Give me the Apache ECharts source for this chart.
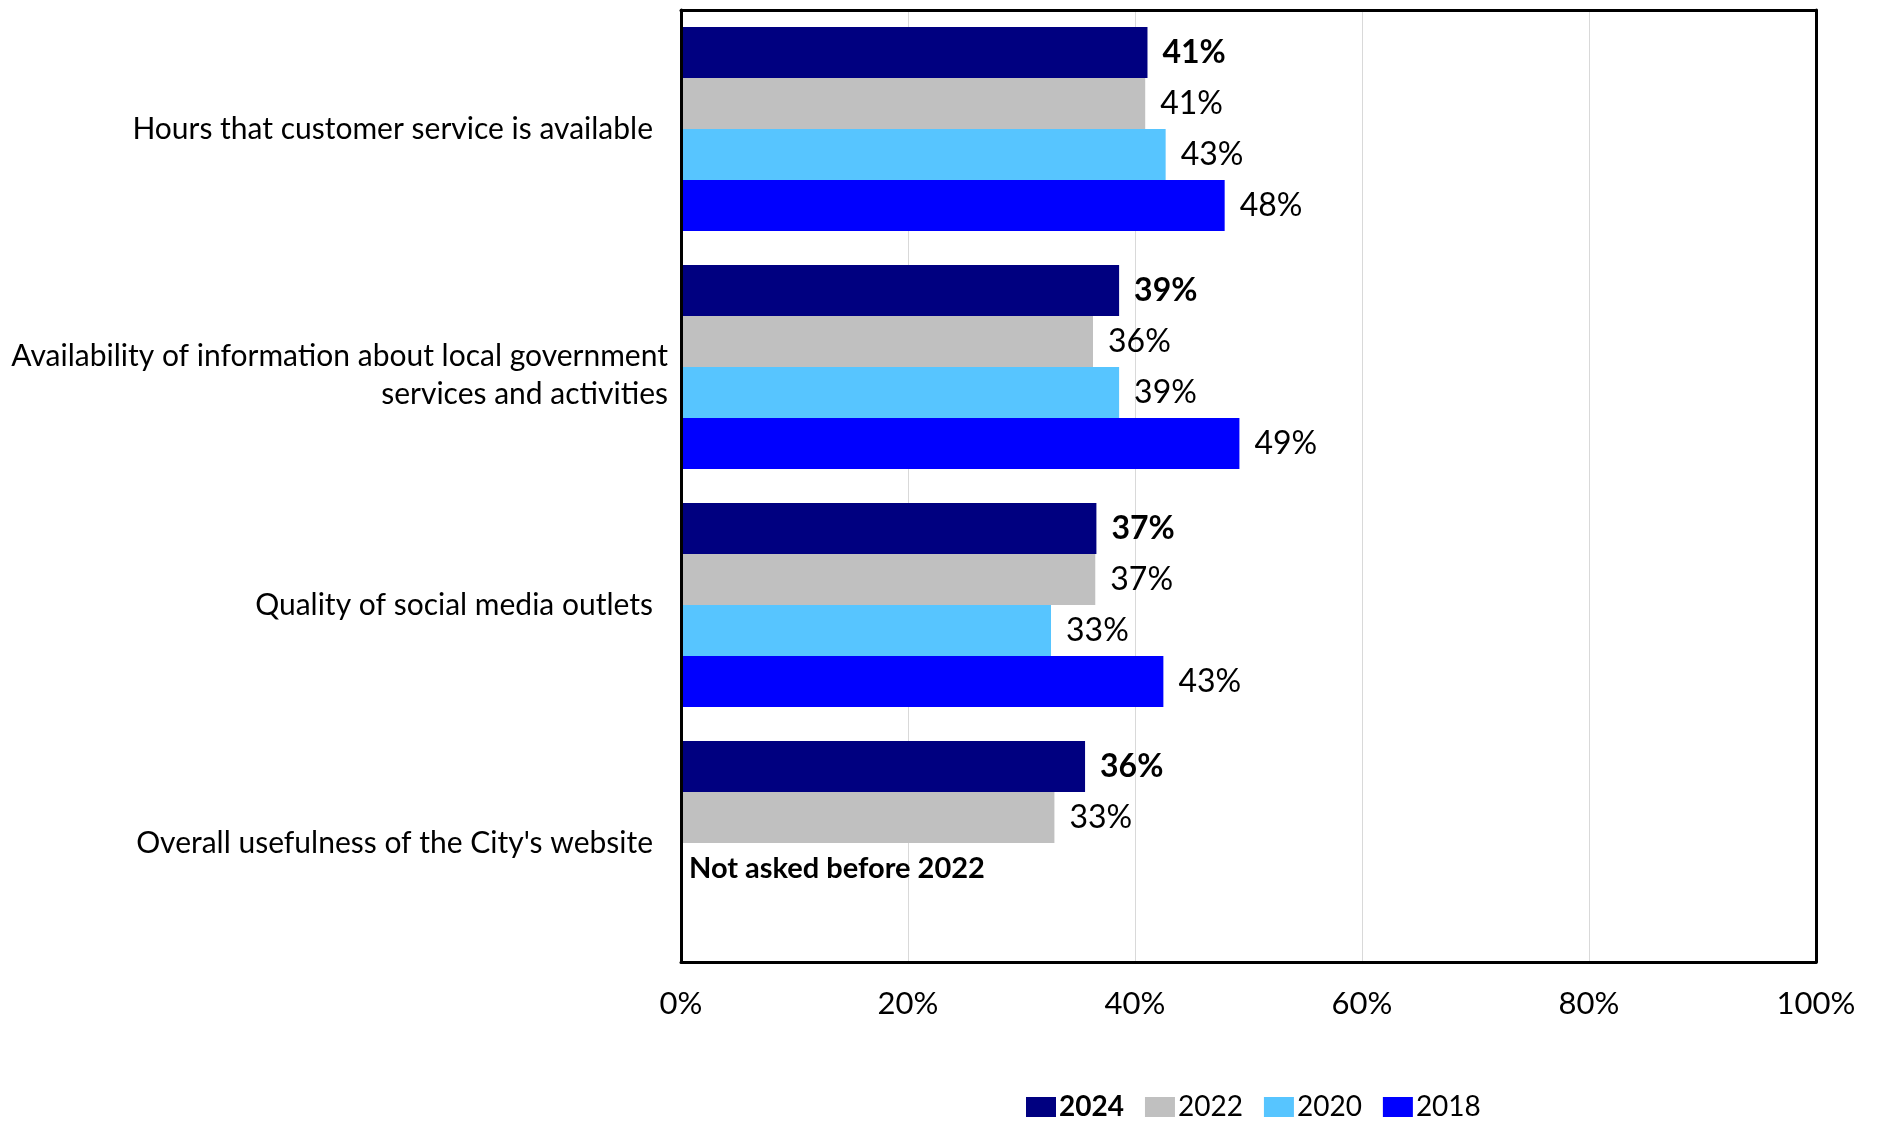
<!DOCTYPE html>
<html>
<head>
<meta charset="utf-8">
<script src="https://cdn.jsdelivr.net/npm/echarts@6/dist/echarts.min.js"></script>
<style>
html,body{margin:0;padding:0;background:#fff;}
#chart{width:1883px;height:1121px;}
</style>
</head>
<body>
<div id="chart"></div>
<script>
const categories = [
  'Hours that customer service is available',
  'Availability of information about local government\nservices and activities',
  'Quality of social media outlets',
  "Overall usefulness of the City's website"
];
const years = ['2024', '2022', '2020', '2018'];
const values2024 = [41.1, 38.6, 36.6, 35.6];
const values2022 = [40.9, 36.3, 36.5, 32.9];
const values2020 = [42.7, 38.6, 32.6, null];
const values2018 = [47.9, 49.2, 42.5, null];
const xTicks = [0, 20, 40, 60, 80, 100];
const noteText = 'Not asked before 2022';
const noteCategoryIndex = 3;

const colors = ['#000080', '#C0C0C0', '#57C5FF', '#0000FF'];
const FONT = 'Lato';

function labelCfg(bold) {
  return {
    show: true,
    position: 'right',
    distance: 15,
    fontFamily: FONT,
    fontSize: 32,
    fontWeight: bold ? 'bold' : 'normal',
    color: '#000',
    formatter: p => (p.value == null ? '' : Math.round(p.value) + '%')
  };
}

const data2020 = values2020.map((v, i) => {
  if (i === noteCategoryIndex) {
    return {
      value: 0,
      label: {
        show: true, position: 'right', distance: 8,
        fontFamily: FONT, fontSize: 29, fontWeight: 'bold', color: '#000',
        formatter: noteText
      }
    };
  }
  return v;
});

const seriesData = [values2024, values2022, data2020, values2018];

const borderLine = {show: true, onZero: false, lineStyle: {color: '#000', width: 3}};

const chart = echarts.init(document.getElementById('chart'), null, {renderer: 'canvas'});
chart.setOption({
  animation: false,
  backgroundColor: '#fff',
  grid: {left: 681, right: 67, top: 10, bottom: 159},
  xAxis: [{
    type: 'value',
    min: 0, max: 100, interval: 20,
    axisLine: {show: false},
    axisTick: {show: false},
    splitLine: {show: true, lineStyle: {color: '#D9D9D9', width: 1}},
    axisLabel: {
      fontFamily: FONT, fontSize: 31, color: '#000', margin: 26,
      formatter: v => xTicks.includes(v) ? v + '%' : ''
    }
  }, {
    type: 'value', min: 0, max: 100, interval: 20, position: 'bottom', z: 10,
    axisLine: borderLine, axisTick: {show: false}, axisLabel: {show: false}, splitLine: {show: false}
  }, {
    type: 'value', min: 0, max: 100, interval: 20, position: 'top', z: 10,
    axisLine: borderLine, axisTick: {show: false}, axisLabel: {show: false}, splitLine: {show: false}
  }],
  yAxis: [{
    type: 'category',
    inverse: true,
    z: 10,
    data: categories.map(c => c.indexOf('\n') >= 0 ? c : {value: c, textStyle: {padding: [0, 15, 0, 0]}}),
    axisLine: borderLine,
    axisTick: {show: false},
    axisLabel: {
      fontFamily: FONT, fontSize: 30, color: '#000', margin: 13,
      lineHeight: 38, align: 'right',
      formatter: v => v.indexOf('\n') >= 0
        ? '{g| }\n' + v.split('\n').map(s => '{a|' + s + '}').join('\n')
        : v,
      rich: {
        g: {fontSize: 1, lineHeight: 17},
        a: {fontFamily: FONT, fontSize: 30, lineHeight: 38, color: '#000', align: 'right'}
      }
    }
  }, {
    type: 'category', inverse: true, position: 'right', z: 10,
    data: categories,
    axisLine: borderLine, axisTick: {show: false}, axisLabel: {show: false}, splitLine: {show: false}
  }],
  legend: {
    left: 1021, top: 1088,
    itemWidth: 30, itemHeight: 20, itemGap: 21,
    textStyle: {fontFamily: FONT, fontSize: 28, color: '#000', padding: [0, 0, 0, -2]},
    icon: 'rect',
    data: years.map((y, i) => i === 0 ? {name: y, textStyle: {fontWeight: 'bold'}} : {name: y})
  },
  series: years.map((y, i) => ({
    name: y,
    type: 'bar',
    data: seriesData[i],
    barGap: '0%',
    barCategoryGap: '14.3%',
    itemStyle: {color: colors[i]},
    label: labelCfg(i === 0)
  }))
});
</script>
</body>
</html>
